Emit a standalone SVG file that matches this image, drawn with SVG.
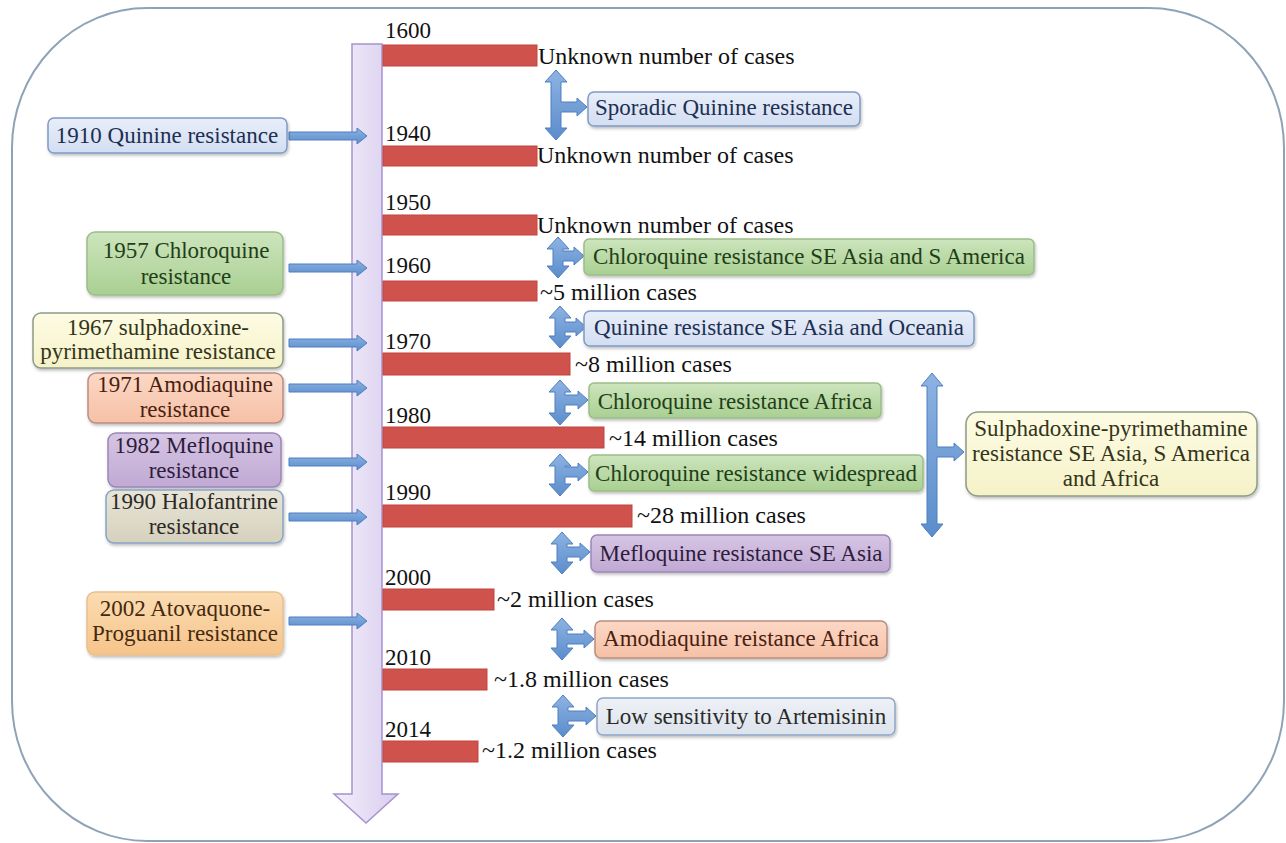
<svg xmlns="http://www.w3.org/2000/svg" width="1286" height="843" viewBox="0 0 1286 843" font-family="'Liberation Serif', 'Times New Roman', 'DejaVu Serif', serif">
<style>
text{font-family:'Liberation Serif','Times New Roman','DejaVu Serif',serif;font-size:23px;fill:#111}
.c{text-anchor:middle}
.yr{font-size:23px}
.cs{font-size:24px}
.bar{fill:#d0524d;stroke:#c2453f;stroke-width:1}
.arr{fill:url(#ga);stroke:#4f7fbf;stroke-width:1}
.bx{stroke-width:1.5;filter:url(#sh)}
.blue{fill:url(#gBlue);stroke:#7f9bc6}
.green{fill:url(#gGreen);stroke:#9cbd88}
.yellow{fill:url(#gYellow);stroke:#8c9c86}
.salmon{fill:url(#gSalmon);stroke:#b98e80}
.purple{fill:url(#gPurple);stroke:#9a86b8}
.beige{fill:url(#gBeige);stroke:#87a4c4}
.orange{fill:url(#gOrange);stroke:#e8c090}
.grey{fill:url(#gGrey);stroke:#8ea6c4}
.tBlue{fill:#1d2f52}.tGreen{fill:#1f3f18}.tYellow{fill:#34341a}.tSalmon{fill:#4a1e10}
.tPurple{fill:#2e1c3c}.tBeige{fill:#2c2a24}.tOrange{fill:#45290f}.tGrey{fill:#2a2a2a}
</style>
<defs>
<filter id="sh" x="-10%" y="-20%" width="120%" height="150%"><feDropShadow dx="1" dy="2" stdDeviation="1.5" flood-color="#000" flood-opacity="0.25"/></filter>
<linearGradient id="ga" x1="0" y1="0" x2="0" y2="1"><stop offset="0" stop-color="#8db3e2"/><stop offset="1" stop-color="#5b8dcc"/></linearGradient>
<linearGradient id="gt" x1="0" y1="0" x2="1" y2="0"><stop offset="0" stop-color="#f3effa"/><stop offset="1" stop-color="#d9cdef"/></linearGradient>
<linearGradient id="gBlue" x1="0" y1="0" x2="0" y2="1"><stop offset="0" stop-color="#e8eef9"/><stop offset="1" stop-color="#d3def2"/></linearGradient>
<linearGradient id="gGreen" x1="0" y1="0" x2="0" y2="1"><stop offset="0" stop-color="#cde5bd"/><stop offset="1" stop-color="#a9cf92"/></linearGradient>
<linearGradient id="gYellow" x1="0" y1="0" x2="0" y2="1"><stop offset="0" stop-color="#fdfce4"/><stop offset="1" stop-color="#f5f2c8"/></linearGradient>
<linearGradient id="gSalmon" x1="0" y1="0" x2="0" y2="1"><stop offset="0" stop-color="#fcd8c6"/><stop offset="1" stop-color="#f6c0a6"/></linearGradient>
<linearGradient id="gPurple" x1="0" y1="0" x2="0" y2="1"><stop offset="0" stop-color="#d6c5e3"/><stop offset="1" stop-color="#c0a9d4"/></linearGradient>
<linearGradient id="gBeige" x1="0" y1="0" x2="0" y2="1"><stop offset="0" stop-color="#e8e5d8"/><stop offset="1" stop-color="#d6d1bd"/></linearGradient>
<linearGradient id="gOrange" x1="0" y1="0" x2="0" y2="1"><stop offset="0" stop-color="#fbdcb2"/><stop offset="1" stop-color="#f6c48a"/></linearGradient>
<linearGradient id="gGrey" x1="0" y1="0" x2="0" y2="1"><stop offset="0" stop-color="#eef1f6"/><stop offset="1" stop-color="#dde3ec"/></linearGradient>
</defs>

<rect x="0" y="0" width="1286" height="843" fill="#fff"/>
<g id="frame"><rect x="12" y="8" width="1272" height="833" rx="135" ry="140" fill="none" stroke="#8fa3b8" stroke-width="2"/></g>

<g id="timeline">
<path d="M352,44 H382 V794 H398 L366,823 L334,794 H352 Z" fill="url(#gt)" stroke="#a592d0" stroke-width="1.5"/>
</g>

<g id="bars">
<rect class="bar" x="383" y="45" width="154" height="21"/>
<rect class="bar" x="383" y="146" width="154" height="20"/>
<rect class="bar" x="383" y="215" width="154" height="20"/>
<rect class="bar" x="383" y="281" width="154" height="20"/>
<rect class="bar" x="383" y="353" width="187" height="22"/>
<rect class="bar" x="383" y="427" width="221" height="21"/>
<rect class="bar" x="383" y="505" width="249" height="22"/>
<rect class="bar" x="383" y="589" width="111" height="21"/>
<rect class="bar" x="383" y="669" width="104" height="21"/>
<rect class="bar" x="383" y="741" width="95" height="21"/>
</g>

<g id="years">
<text class="yr" x="385" y="38">1600</text>
<text class="yr" x="385" y="141">1940</text>
<text class="yr" x="385" y="210">1950</text>
<text class="yr" x="385" y="273">1960</text>
<text class="yr" x="385" y="349">1970</text>
<text class="yr" x="385" y="423">1980</text>
<text class="yr" x="385" y="500">1990</text>
<text class="yr" x="385" y="585">2000</text>
<text class="yr" x="385" y="665">2010</text>
<text class="yr" x="385" y="737">2014</text>
</g>

<g id="cases">
<text class="cs" x="538" y="64">Unknown number of cases</text>
<text class="cs" x="537" y="163">Unknown number of cases</text>
<text class="cs" x="537" y="233">Unknown number of cases</text>
<text class="cs" x="540" y="300">~5 million cases</text>
<text class="cs" x="575" y="372">~8 million cases</text>
<text class="cs" x="609" y="446">~14 million cases</text>
<text class="cs" x="637" y="523">~28 million cases</text>
<text class="cs" x="497" y="607">~2 million cases</text>
<text class="cs" x="494" y="687">~1.8 million cases</text>
<text class="cs" x="482" y="758">~1.2 million cases</text>
</g>

<g id="connectors">
<path class="arr" d="M289,132 H357 V128 L367,136 L357,144 V140 H289 Z"/>
<path class="arr" d="M289,264 H357 V260 L367,268 L357,276 V272 H289 Z"/>
<path class="arr" d="M289,339 H357 V335 L367,343 L357,351 V347 H289 Z"/>
<path class="arr" d="M289,384 H357 V380 L367,388 L357,396 V392 H289 Z"/>
<path class="arr" d="M289,458 H357 V454 L367,462 L357,470 V466 H289 Z"/>
<path class="arr" d="M289,513 H357 V509 L367,517 L357,525 V521 H289 Z"/>
<path class="arr" d="M289,617 H357 V613 L367,621 L357,629 V625 H289 Z"/>
<path class="arr" d="M556,70 L567,82 L561,82 L561,102 L577,102 L577,98 L587,107 L577,116 L577,112 L561,112 L561,128 L567,128 L556,140 L545,128 L551,128 L551,82 L545,82 Z"/>
<path class="arr" d="M558,237 L569,249 L563,249 L563,251 L574,251 L574,247 L584,256 L574,265 L574,261 L563,261 L563,266 L569,266 L558,278 L547,266 L553,266 L553,249 L547,249 Z"/>
<path class="arr" d="M560,306 L571,318 L565,318 L565,322 L576,322 L576,318 L586,327 L576,336 L576,332 L565,332 L565,336 L571,336 L560,348 L549,336 L555,336 L555,318 L549,318 Z"/>
<path class="arr" d="M560,380 L571,392 L565,392 L565,395 L578,395 L578,391 L588,400 L578,409 L578,405 L565,405 L565,413 L571,413 L560,425 L549,413 L555,413 L555,392 L549,392 Z"/>
<path class="arr" d="M560,454 L571,466 L565,466 L565,467 L578,467 L578,463 L588,472 L578,481 L578,477 L565,477 L565,484 L571,484 L560,496 L549,484 L555,484 L555,466 L549,466 Z"/>
<path class="arr" d="M562,532 L573,544 L567,544 L567,547 L580,547 L580,543 L590,552 L580,561 L580,557 L567,557 L567,562 L573,562 L562,574 L551,562 L557,562 L557,544 L551,544 Z"/>
<path class="arr" d="M562,618 L573,630 L567,630 L567,634 L584,634 L584,630 L594,639 L584,648 L584,644 L567,644 L567,648 L573,648 L562,660 L551,648 L557,648 L557,630 L551,630 Z"/>
<path class="arr" d="M563,695 L574,707 L568,707 L568,711 L586,711 L586,707 L596,716 L586,725 L586,721 L568,721 L568,725 L574,725 L563,737 L552,725 L558,725 L558,707 L552,707 Z"/>
<path class="arr" d="M932,373 L943,386 L937,386 L937,447 L954,447 L954,443 L964,452 L954,461 L954,457 L937,457 L937,524 L943,524 L932,537 L921,524 L927,524 L927,386 L921,386 Z"/>
</g>

<g id="n1910"><rect class="bx blue" x="48" y="118" width="239" height="35" rx="6"/><text class="c tBlue" x="167" y="143">1910 Quinine resistance</text></g>
<g id="n1957"><rect class="bx green" x="87" y="232" width="196" height="63" rx="8"/><text class="c tGreen" x="186" y="258">1957 Chloroquine</text><text class="c tGreen" x="186" y="284">resistance</text></g>
<g id="n1967"><rect class="bx yellow" x="33" y="313" width="250" height="55" rx="8"/><text class="c tYellow" x="158" y="335">1967 sulphadoxine-</text><text class="c tYellow" x="158" y="359">pyrimethamine resistance</text></g>
<g id="n1971"><rect class="bx salmon" x="88" y="373" width="195" height="50" rx="8"/><text class="c tSalmon" x="185" y="392">1971 Amodiaquine</text><text class="c tSalmon" x="185" y="417">resistance</text></g>
<g id="n1982"><rect class="bx purple" x="108" y="433" width="173" height="54" rx="8"/><text class="c tPurple" x="194" y="453">1982 Mefloquine</text><text class="c tPurple" x="194" y="478">resistance</text></g>
<g id="n1990"><rect class="bx beige" x="106" y="490" width="177" height="53" rx="8"/><text class="c tBeige" x="194" y="509">1990 Halofantrine</text><text class="c tBeige" x="194" y="534">resistance</text></g>
<g id="n2002"><rect class="bx orange" x="87" y="592" width="196" height="63" rx="8"/><text class="c tOrange" x="185" y="616">2002 Atovaquone-</text><text class="c tOrange" x="185" y="641">Proguanil resistance</text></g>

<g id="r1"><rect class="bx blue" x="588" y="92" width="272" height="34" rx="6"/><text class="c tBlue" x="724" y="115">Sporadic Quinine resistance</text></g>
<g id="r2"><rect class="bx green" x="584" y="239" width="450" height="36" rx="5"/><text class="c tGreen" x="809" y="264">Chloroquine resistance SE Asia and S America</text></g>
<g id="r3"><rect class="bx blue" x="584" y="311" width="390" height="35" rx="6"/><text class="c tBlue" x="779" y="335">Quinine resistance SE Asia and Oceania</text></g>
<g id="r4"><rect class="bx green" x="589" y="383" width="292" height="35" rx="5"/><text class="c tGreen" x="735" y="409">Chloroquine resistance Africa</text></g>
<g id="r5"><rect class="bx green" x="589" y="455" width="334" height="36" rx="5"/><text class="c tGreen" x="756" y="481">Chloroquine resistance widespread</text></g>
<g id="r6"><rect class="bx purple" x="591" y="535" width="299" height="37" rx="6"/><text class="c tPurple" x="741" y="561">Mefloquine resistance SE Asia</text></g>
<g id="r7"><rect class="bx salmon" x="595" y="621" width="292" height="37" rx="6"/><text class="c tSalmon" x="741" y="646">Amodiaquine reistance Africa</text></g>
<g id="r8"><rect class="bx grey" x="597" y="698" width="298" height="37" rx="6"/><text class="c tGrey" x="746" y="724">Low sensitivity to Artemisinin</text></g>
<g id="r9"><rect class="bx yellow" x="966" y="412" width="291" height="84" rx="12"/><text class="c tYellow" x="1111" y="436">Sulphadoxine-pyrimethamine</text><text class="c tYellow" x="1111" y="461">resistance SE Asia, S America</text><text class="c tYellow" x="1111" y="486">and Africa</text></g>
</svg>
